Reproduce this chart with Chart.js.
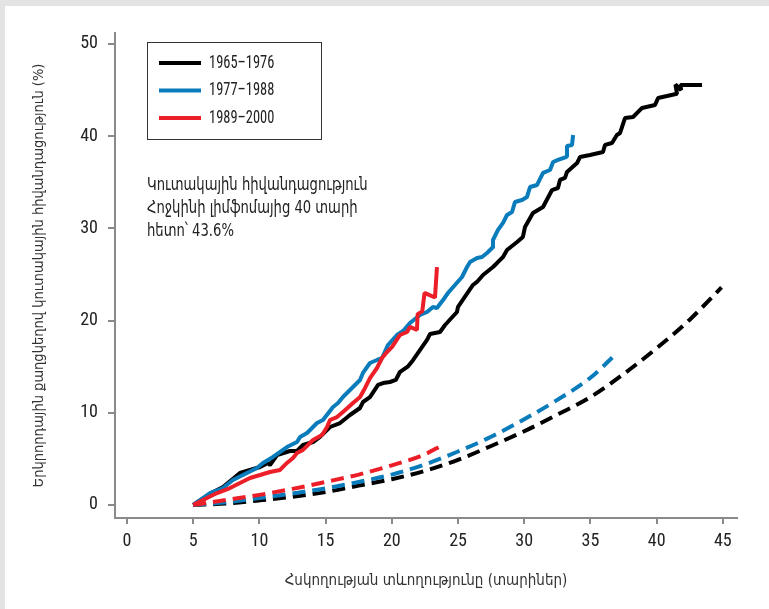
<!DOCTYPE html>
<html>
<head>
<meta charset="utf-8">
<script src="https://cdn.jsdelivr.net/npm/chart.js@4"></script>
<style>
  html, body { margin: 0; padding: 0; }
  body { width: 769px; height: 609px; background: #e3e3e3; position: relative; overflow: hidden; }
  #card { position: absolute; left: 5px; top: 6px; right: 0; bottom: 0; background: #fff; }
  #wrap { position: absolute; left: 0; top: 0; width: 769px; height: 609px; }
</style>
</head>
<body>
<div id="card"></div>
<div id="wrap"><canvas id="chart" width="769" height="609"></canvas></div>
<script>
const NUM_FONT = '"Roboto Condensed", "DejaVu Sans Condensed", sans-serif';
const TEXT_FONT = '"DejaVu Sans Condensed", "Noto Sans Armenian", sans-serif';
const AXIS_GRAY = '#8a8a8a';

// cohorts
const cohortLabels = ['1965–1976', '1977–1988', '1989–2000'];
const cohortColors = ['#000000', '#0a7bbb', '#ec1f28'];

// observed cumulative incidence (solid lines): years of follow-up / percent
const obs1965T = [5, 6.5, 7.25, 8.53, 9.29, 10.05, 10.65, 10.8, 11.33, 12.31, 12.84, 13.29, 14.05, 14.58, 15.33, 16.09, 16.47, 16.84, 17.6, 17.82, 18.35, 18.96, 19.34, 19.86, 20.3, 20.6, 21.2, 21.6, 22.66, 22.89, 23.64, 24.02, 24.92, 25.0, 26.13, 26.43, 26.89, 27.64, 27.95, 28.4, 28.7, 29.46, 29.9, 30.06, 30.66, 31.42, 32.1, 32.55, 32.7, 33.08, 33.23, 33.99, 34.21, 34.97, 35.95, 36.1, 36.63, 37.0, 37.24, 37.61, 38.22, 38.9, 39.88, 40.11, 41.54, 41.42, 41.85, 41.8, 43.43];
const obs1965V = [0, 1.41, 1.95, 3.47, 3.8, 4.12, 4.56, 4.34, 5.42, 5.86, 5.86, 6.51, 6.83, 7.38, 8.46, 8.89, 9.33, 9.76, 10.52, 11.17, 11.71, 13.02, 13.23, 13.34, 13.56, 14.4, 15.0, 15.7, 17.9, 18.55, 18.76, 19.52, 20.93, 21.48, 23.86, 24.19, 24.95, 25.81, 26.25, 26.9, 27.66, 28.52, 29.07, 30.15, 31.67, 32.32, 34.16, 34.38, 35.25, 35.47, 36.12, 37.09, 37.74, 37.96, 38.29, 39.05, 39.26, 40.13, 40.35, 41.97, 42.08, 43.06, 43.38, 44.14, 44.6, 45.6, 45.0, 45.55, 45.55];

const obs1977T = [5, 6.27, 7.25, 8.0, 9.06, 9.82, 10.27, 10.65, 11.03, 12.08, 12.84, 13.07, 13.6, 14.35, 14.8, 15.56, 15.94, 16.31, 16.84, 17.6, 17.82, 18.35, 18.88, 19.26, 19.71, 20.39, 20.85, 21.37, 22.13, 22.66, 23.11, 23.41, 23.87, 24.24, 24.77, 25.3, 25.68, 25.91, 26.44, 26.81, 27.19, 27.57, 27.64, 28.02, 28.4, 28.7, 29.08, 29.3, 29.83, 30.21, 30.44, 30.97, 31.42, 31.95, 32.18, 32.55, 33.16, 33.23, 33.61, 33.69];
const obs1977V = [0, 1.3, 1.84, 2.71, 3.47, 4.01, 4.56, 4.88, 5.21, 6.29, 6.83, 7.38, 7.81, 8.89, 9.22, 10.63, 11.06, 11.71, 12.47, 13.56, 14.32, 15.4, 15.73, 15.94, 17.35, 18.44, 18.87, 19.74, 20.61, 20.93, 21.48, 21.37, 22.23, 22.99, 23.86, 24.73, 25.81, 26.36, 26.79, 26.9, 27.33, 27.87, 28.74, 29.83, 30.59, 31.45, 31.78, 32.86, 33.08, 33.41, 34.49, 34.71, 36.01, 36.33, 37.2, 37.42, 37.74, 38.94, 39.05, 40.13];

const obs1989T = [5, 6.04, 6.8, 7.78, 8.53, 9.29, 10.05, 10.8, 11.56, 12.08, 12.54, 12.84, 13.29, 14.05, 14.73, 15.11, 15.33, 15.86, 16.31, 17.07, 17.6, 17.98, 18.35, 18.88, 19.26, 19.64, 20.02, 20.62, 21.15, 21.37, 21.9, 21.95, 22.3, 22.47, 23.26, 23.41];
const obs1989V = [0, 0.76, 1.3, 1.84, 2.39, 2.93, 3.25, 3.58, 3.8, 4.56, 5.1, 5.64, 5.97, 7.05, 7.59, 8.46, 9.22, 9.54, 10.09, 11.06, 11.71, 12.69, 13.77, 14.86, 15.94, 16.59, 17.14, 18.44, 18.76, 19.31, 19.0, 20.7, 21.0, 23.0, 22.5, 25.8];

// expected incidence in the general population (dashed lines)
const exp1965T = [5, 7.5, 10, 12.5, 15, 17.5, 20, 22.5, 25, 27.5, 30, 32.5, 35, 37.5, 40, 42.5, 44.9];
const exp1965V = [0, 0.15, 0.5, 0.9, 1.4, 2.1, 2.8, 3.7, 4.9, 6.4, 8.0, 9.8, 11.7, 14.2, 17.0, 20.1, 23.6];
const exp1977T = [5, 7.5, 10, 12.5, 15, 17.5, 20, 22.5, 25, 27.5, 30, 32.5, 35, 36.8];
const exp1977V = [0, 0.3, 0.75, 1.25, 1.8, 2.5, 3.3, 4.4, 5.8, 7.4, 9.3, 11.4, 13.8, 16.2];
const exp1989T = [5, 7.5, 10, 12.5, 15, 17.5, 20, 22.5, 23.7];
const exp1989V = [0, 0.55, 1.1, 1.75, 2.5, 3.3, 4.3, 5.5, 6.4];

const xTicks = [0, 5, 10, 15, 20, 25, 30, 35, 40, 45];
const yTicks = [0, 10, 20, 30, 40, 50];

const xTitle = 'Հսկողության տևողությունը (տարիներ)';
const yTitle = 'Երկրորդային քաղցկեղով կուտակային հիվանդացություն (%)';
const noteLines = ['Կուտակային հիվանդացություն', 'Հոջկինի լիմֆոմայից 40 տարի', 'հետո՝ 43.6%'];

function pts(ts, vs) {
  return ts.map((t, i) => ({ x: t, y: vs[i] }));
}

function solid(i, ts, vs) {
  return {
    label: cohortLabels[i],
    data: pts(ts, vs),
    borderColor: cohortColors[i],
    borderWidth: 4,
    pointRadius: 0,
    tension: 0,
    borderJoinStyle: 'bevel'
  };
}

function dashed(i, ts, vs) {
  return {
    label: cohortLabels[i] + ' expected',
    data: pts(ts, vs),
    borderColor: cohortColors[i],
    borderWidth: 4,
    borderDash: [13, 7],
    pointRadius: 0,
    cubicInterpolationMode: 'monotone'
  };
}

// condensed text: squeeze horizontally
function squeezed(ctx, text, x, y, sx) {
  ctx.save();
  ctx.translate(x, y);
  ctx.scale(sx, 1);
  ctx.fillText(text, 0, 0);
  ctx.restore();
}

// draws legend box and note text
const notesPlugin = {
  id: 'notes',
  afterDraw(chart) {
    const ctx = chart.ctx;
    ctx.save();
    ctx.strokeStyle = '#333';
    ctx.lineWidth = 1;
    ctx.strokeRect(147.5, 42.5, 174, 97);
    ctx.font = '19px ' + NUM_FONT;
    ctx.textBaseline = 'middle';
    ctx.fillStyle = '#222';
    cohortLabels.forEach((lab, i) => {
      const y = 63 + i * 27.5;
      ctx.strokeStyle = cohortColors[i];
      ctx.lineWidth = 4;
      ctx.beginPath();
      ctx.moveTo(159, y);
      ctx.lineTo(201, y);
      ctx.stroke();
      squeezed(ctx, lab, 209, y, 0.76);
    });
    ctx.font = '17px ' + TEXT_FONT;
    noteLines.forEach((line, i) => {
      squeezed(ctx, line, 147, 186 + i * 23, 0.86);
    });
    ctx.restore();
  }
};

new Chart(document.getElementById('chart'), {
  type: 'line',
  data: {
    datasets: [
      solid(2, obs1989T, obs1989V),
      solid(1, obs1977T, obs1977V),
      solid(0, obs1965T, obs1965V),
      dashed(2, exp1989T, exp1989V),
      dashed(1, exp1977T, exp1977V),
      dashed(0, exp1965T, exp1965V)
    ]
  },
  options: {
    responsive: false,
    animation: false,
    layout: { padding: { left: 0, right: 32, top: 33, bottom: 0 } },
    plugins: {
      legend: { display: false },
      tooltip: { enabled: false }
    },
    scales: {
      x: {
        type: 'linear',
        min: -0.906,
        max: 46.07,
        afterBuildTicks: s => { s.ticks = xTicks.map(v => ({ value: v })); },
        afterFit: s => { s.height = 91; },
        border: { display: true, color: AXIS_GRAY, width: 2 },
        grid: { drawOnChartArea: false, drawTicks: true, tickLength: 6, color: AXIS_GRAY, lineWidth: 2 },
        ticks: { color: '#222', font: { family: NUM_FONT, size: 18 }, padding: 7 },
        title: { display: true, text: xTitle, color: '#333', font: { family: TEXT_FONT, size: 15 }, padding: { top: 0, bottom: 19 } }
      },
      y: {
        type: 'linear',
        min: -1.41,
        max: 51.19,
        afterBuildTicks: s => { s.ticks = yTicks.map(v => ({ value: v })); },
        afterFit: s => { s.width = 115; },
        border: { display: true, color: AXIS_GRAY, width: 2 },
        grid: { drawOnChartArea: false, drawTicks: true, tickLength: 7, color: AXIS_GRAY, lineWidth: 2 },
        ticks: { color: '#222', font: { family: NUM_FONT, size: 18 }, padding: 10 },
        title: { display: true, text: yTitle, color: '#333', font: { family: TEXT_FONT, size: 14.5 }, padding: { top: 31, bottom: 0 } }
      }
    }
  },
  plugins: [notesPlugin]
});
</script>
</body>
</html>
